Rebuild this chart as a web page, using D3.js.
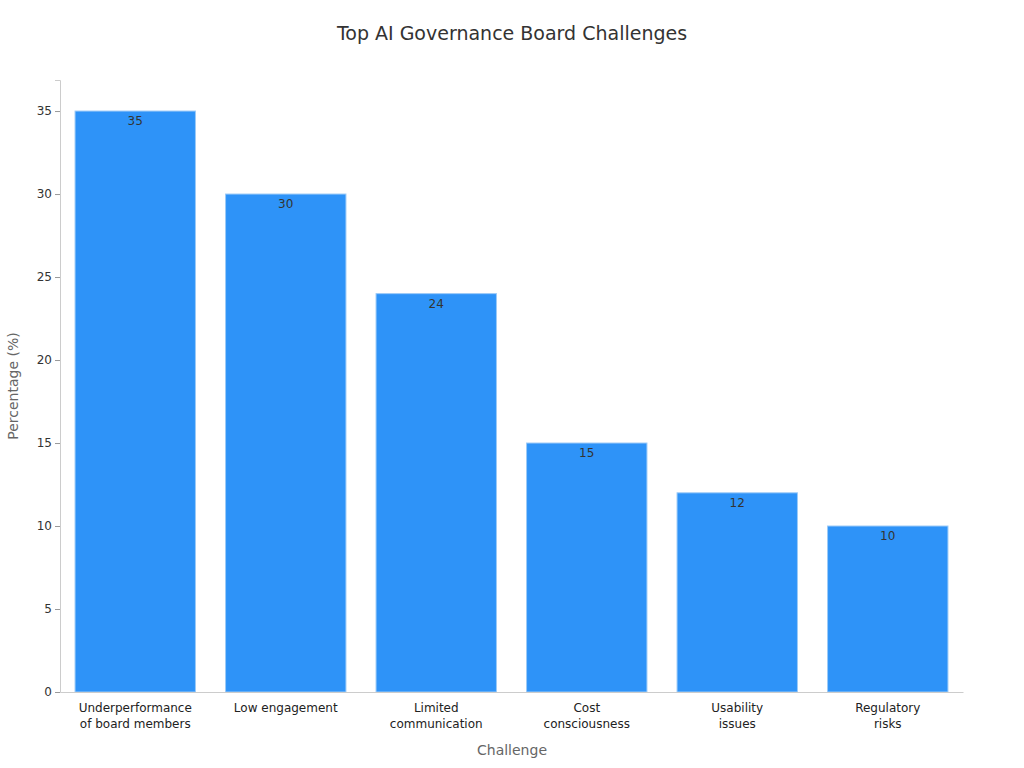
<!DOCTYPE html>
<html><head><meta charset="utf-8">
<script src="https://cdn.jsdelivr.net/npm/d3@7"></script>
<style>body{margin:0;background:#fff}text{font-family:"DejaVu Sans",sans-serif}</style>
</head><body><svg id="c" width="1024" height="768"></svg>
<script>
const categories = ["Underperformance\nof board members","Low engagement","Limited\ncommunication","Cost\nconsciousness","Usability\nissues","Regulatory\nrisks"];
const values = [35,30,24,15,12,10];
const yTicks = [0,5,10,15,20,25,30,35];

const svg = d3.select("#c");
const m = {l:60, r:963, t:80, b:692};
const x = d3.scaleBand().domain(categories).range([m.l,m.r]).paddingInner(0.2).paddingOuter(0.1);
const y = d3.scaleLinear().domain([0,36.87]).range([m.b,m.t]);

svg.append("text").attr("x",512).attr("y",40).attr("text-anchor","middle")
  .attr("font-size",19).attr("fill","#333").text("Top AI Governance Board Challenges");

const ya = svg.append("g").attr("transform",`translate(${m.l},0)`).call(d3.axisLeft(y).tickValues(yTicks).tickSize(5));
ya.select(".domain").attr("stroke","#ccc");
ya.selectAll(".tick line").attr("stroke","#999");
ya.selectAll(".tick text").attr("font-size",12).attr("fill","#333").attr("font-family","DejaVu Sans");

svg.selectAll("rect.bar").data(values).join("rect").attr("class","bar")
  .attr("x",(d,i)=>x(categories[i])).attr("width",x.bandwidth())
  .attr("y",d=>y(d)).attr("height",d=>m.b-y(d))
  .attr("fill","#2e93f8").attr("stroke","#9ccaf7").attr("stroke-width",1);

svg.selectAll("text.val").data(values).join("text").attr("class","val")
  .attr("x",(d,i)=>x(categories[i])+x.bandwidth()/2).attr("y",d=>y(d)+14)
  .attr("text-anchor","middle").attr("font-size",12).attr("fill","#333").text(d=>d);

const xa = svg.append("g").attr("transform",`translate(0,${m.b})`).call(d3.axisBottom(x).tickSize(0).tickFormat(""));
xa.select(".domain").attr("stroke","#ccc");
categories.forEach(c=>{
  const t = svg.append("text").attr("x",x(c)+x.bandwidth()/2).attr("y",712)
    .attr("text-anchor","middle").attr("font-size",12).attr("fill","#222");
  c.split("\n").forEach((s,i)=>t.append("tspan").attr("x",x(c)+x.bandwidth()/2).attr("dy",i?16:0).text(s));
});
svg.append("text").attr("x",512).attr("y",755).attr("text-anchor","middle").attr("font-size",14).attr("fill","#666").text("Challenge");
svg.append("text").attr("transform","translate(18,386) rotate(-90)").attr("text-anchor","middle").attr("font-size",14).attr("fill","#666").text("Percentage (%)");
</script></body></html>
